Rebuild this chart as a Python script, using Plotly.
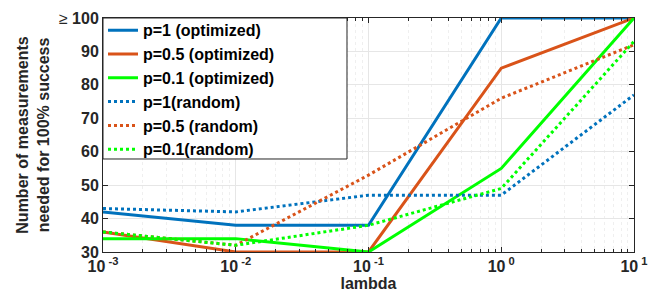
import plotly.graph_objects as go

lam = [1e-3, 1e-2, 1e-1, 1e0, 1e1]
names = ["p=1 (optimized)", "p=0.5 (optimized)", "p=0.1 (optimized)",
         "p=1(random)", "p=0.5 (random)", "p=0.1(random)"]
p1_opt = [42, 38, 38, 100, 100]
p05_opt = [36, 30, 30, 85, 100]
p01_opt = [34, 34, 30, 55, 100]
p1_rand = [43, 42, 47, 47, 77]
p05_rand = [36, 32, 53, 76, 92]
p01_rand = [36, 32, 38, 49, 93]
series = [p1_opt, p05_opt, p01_opt, p1_rand, p05_rand, p01_rand]
colors = ["#0072BD", "#D95319", "#00FF00", "#0072BD", "#D95319", "#00FF00"]
dashes = ["solid", "solid", "solid", "dot", "dot", "dot"]

xtickvals = [1e-3, 1e-2, 1e-1, 1e0, 1e1]
xticktext = ["10<sup> -3</sup>", "10<sup> -2</sup>", "10<sup> -1</sup>", "10<sup> 0</sup>", "10<sup> 1</sup>"]
ytickvals = [30, 40, 50, 60, 70, 80, 90, 100]
yticktext = ["30", "40", "50", "60", "70", "80", "90", "<span style='font-weight:normal'>≥</span> 100"]

fig = go.Figure()
for n, s, c, d in zip(names, series, colors, dashes):
    fig.add_trace(go.Scatter(x=lam, y=s, name=n, mode="lines",
                             line=dict(color=c, width=3, dash=d)))

fam = "Liberation Sans, Arial, sans-serif"
# legend box (MATLAB style, wider than its text)
fig.add_shape(type="rect", xref="paper", yref="paper",
              x0=0, x1=0.4595, y0=0.3975, y1=1,
              fillcolor="white", line=dict(color="#262626", width=1), layer="above")
# page body has an 8px margin, so the figure is 8px smaller and margins shifted
fig.update_layout(
    width=660, height=294,
    margin=dict(l=95, r=34, t=5, b=50),
    paper_bgcolor="white", plot_bgcolor="white",
    font=dict(family=fam, size=15, color="#262626"),
    legend=dict(x=0, y=1.02, xanchor="left", yanchor="top",
                bgcolor="rgba(0,0,0,0)", borderwidth=0, maxheight=400,
                font=dict(family=fam, size=16, color="black", weight="bold"),
                itemwidth=30, tracegroupgap=0),
)
fig.update_xaxes(
    type="log", range=[-3, 1], automargin=False,
    tickvals=xtickvals, ticktext=xticktext, ticklabeloverflow="allow",
    ticks="inside", ticklen=5, tickcolor="#262626",
    showline=True, linecolor="#262626", linewidth=1, mirror="ticks",
    showgrid=True, gridcolor="#e6e6e6", gridwidth=1,
    minor=dict(dtick="D1", ticks="inside", ticklen=3, tickcolor="#262626", showgrid=True,
               gridcolor="#efefef", griddash="dot"),
    tickfont=dict(size=16, weight="bold", color="#262626"),
    title=dict(text="lambda", font=dict(size=16, weight="bold", color="#262626"), standoff=2),
    zeroline=False,
)
fig.update_yaxes(
    range=[30, 100], automargin=False,
    tickvals=ytickvals, ticktext=yticktext, ticklabeloverflow="allow",
    ticks="inside", ticklen=5, tickcolor="#262626",
    showline=True, linecolor="#262626", linewidth=1, mirror="ticks",
    showgrid=True, gridcolor="#e6e6e6", gridwidth=1,
    tickfont=dict(size=16, weight="bold", color="#262626"),
    title=dict(text="Number of measurements<br>needed for 100% success",
               font=dict(size=16, weight="bold", color="#262626"), standoff=5),
    zeroline=False,
)
fig.write_html("out.html")
